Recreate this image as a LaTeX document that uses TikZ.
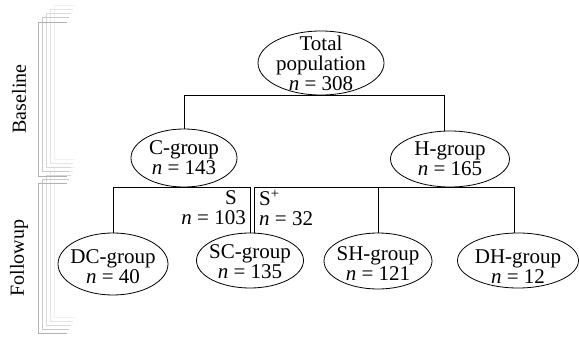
\documentclass[tikz,border=0pt]{standalone}
\usepackage{fontspec}
\setmainfont{Liberation Serif}
\usetikzlibrary{shapes.geometric, positioning}
\tikzset{
    grp/.style = {ellipse, draw=black, line width=0.8pt, inner sep=0pt, minimum width=108pt, minimum height=56pt},
    lbl/.style = {align=center, inner sep=0pt, font=\fontsize{21}{20}\selectfont},
    link/.style = {draw=black, line width=0.8pt},
    phase/.style = {rotate=90, inner sep=0pt, font=\fontsize{20}{20}\selectfont},
    bracket/.style = {line width=0.9pt}
}

\begin{document}
\begin{tikzpicture}[x=1pt, y=-1pt]
    \useasboundingbox (0,0) rectangle (579,339);

    % Phase brackets (stacked shadows)
    \foreach \k/\tone in {4/12, 3/20, 2/30, 1/42, 0/60} {
        \draw [bracket, draw=gray!\tone] ({67+2*\k},{22-4.2*\k}) -| ({38+4*\k},{176-4.2*\k}) -- ({67+2*\k},{176-4.2*\k});
        \draw [bracket, draw=gray!\tone] ({67+2*\k},{183-3.8*\k}) -| ({38+4*\k},{333-3.8*\k}) -- ({67+2*\k},{333-3.8*\k});
    }
    \node (baseline) [phase] at (19,99) {Baseline};
    \node (followup) [phase] at (19,258) {Followup};

    % Baseline: whole sample
    \node (total) [grp, minimum width=126pt, minimum height=64pt] at (321,63) {};
    \node (total-t) [lbl] at (total) {Total\\population\\\textit{n} = 308};

    \node (cgrp) [grp, minimum width=106pt, minimum height=58pt] at (184,158) {};
    \node (cgrp-t) [lbl] at (cgrp) {C-group\\\textit{n} = 143};
    \node (hgrp) [grp, minimum width=119pt] at (450,159) {};
    \node (hgrp-t) [lbl] at (hgrp) {H-group\\\textit{n} = 165};

    % Followup groups
    \node (dcgrp) [grp, minimum width=110pt, minimum height=62pt] at (113,264) {};
    \node (dcgrp-t) [lbl] at ([yshift=-3pt]dcgrp) {DC-group\\\textit{n} = 40};
    \node (scgrp) [grp, minimum width=107pt, minimum height=55pt] at (250,260.5) {};
    \node (scgrp-t) [lbl] at ([yshift=-1.5pt]scgrp) {SC-group\\\textit{n} = 135};
    \node (shgrp) [grp] at (378,261) {};
    \node (shgrp-t) [lbl] at ([yshift=-3pt]shgrp) {SH-group\\\textit{n} = 121};
    \node (dhgrp) [grp, minimum width=121pt, minimum height=55pt] at (518,260.5) {};
    \node (dhgrp-t) [lbl] at ([yshift=-6pt]dhgrp) {DH-group\\\textit{n} = 12};

    % Transition labels
    \node (s-lbl) [lbl, align=right, anchor=east] at (246,208) {S\hspace*{9pt}\\\textit{n} = 103};
    \node (splus-lbl) [lbl, align=left, anchor=west] at (259,208) {S\textsuperscript{+}\\\textit{n} = 32};

    % Connectors
    \draw [link] (cgrp.north) |- (total.south) -| ([xshift=-6pt]hgrp.north);
    \draw [link] (dcgrp.north) |- (cgrp.south) -| ([xshift=0.5pt]scgrp.north);
    \draw [link] ([xshift=4.5pt]scgrp.north) |- (hgrp.south) -| ([xshift=-4pt]dhgrp.north);
    \draw [link] (shgrp.north) -- (shgrp.north |- hgrp.south);
\end{tikzpicture}
\end{document}
